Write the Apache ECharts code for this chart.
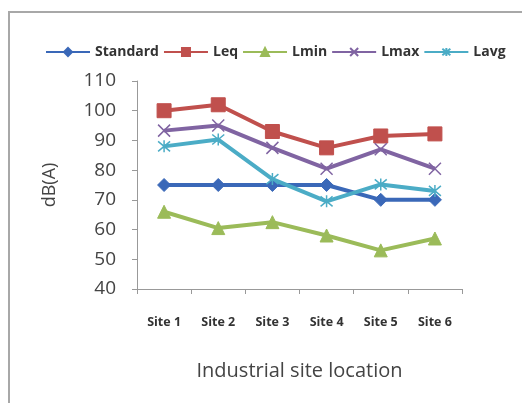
<!DOCTYPE html>
<html>
<head>
<meta charset="utf-8">
<script src="https://cdn.jsdelivr.net/npm/echarts@6/dist/echarts.min.js"></script>
<style>
  html, body { margin: 0; padding: 0; background: #fff; }
  #chart { width: 522px; height: 403px; }
</style>
</head>
<body>
<div id="chart"></div>
<script>
// data
var sites = ['Site 1', 'Site 2', 'Site 3', 'Site 4', 'Site 5', 'Site 6'];
var standard = [75, 75, 75, 75, 70, 70];
var leq = [100, 102, 93, 87.5, 91.5, 92.2];
var lmin = [66, 60.5, 62.5, 58, 53, 57];
var lmax = [93.3, 95, 87.5, 80.5, 87, 80.5];
var lavg = [88, 90.3, 77, 69.5, 75.2, 73];

var xMark = 'path://M0,0L10,10M10,0L0,10';
var starMark = 'path://M0,0L10,10M10,0L0,10M5,-1L5,11';

function line(name, data, color, symbol, size, strokeOnly) {
  return {
    name: name,
    type: 'line',
    data: data,
    symbol: symbol,
    symbolSize: size,
    lineStyle: { color: color, width: 4 },
    itemStyle: strokeOnly
      ? { color: 'rgba(0,0,0,0)', borderColor: color, borderWidth: 1.5 }
      : { color: color, borderColor: color, borderWidth: 1 },
    z: 2
  };
}

var myChart = echarts.init(document.getElementById('chart'));
myChart.setOption({
  animation: false,
  graphic: [{
    type: 'rect',
    shape: { x: 9, y: 12, width: 600, height: 500 },
    style: { fill: 'none', stroke: '#a8a8a8', lineWidth: 2 }
  }],
  color: ['#3a68b8', '#c0504d', '#9bbb59', '#8064a2', '#4bacc6'],
  legend: {
    left: 40,
    top: 40,
    itemWidth: 44,
    itemHeight: 10,
    itemGap: 4,
    textStyle: { fontFamily: 'Open Sans', fontSize: 14, fontWeight: 'bold', color: '#333' },
    data: ['Standard', 'Leq', 'Lmin', 'Lmax', 'Lavg']
  },
  grid: { left: 137, right: 60, top: 81, bottom: 114 },
  xAxis: {
    type: 'category',
    data: sites,
    name: 'Industrial site location',
    nameLocation: 'middle',
    nameGap: 72,
    nameTextStyle: { fontFamily: 'Open Sans', fontSize: 20, color: '#444' },
    axisLine: { lineStyle: { color: '#999', width: 1 } },
    axisTick: { show: true, length: 5, lineStyle: { color: '#999' } },
    axisLabel: { margin: 27, fontFamily: 'Open Sans', fontSize: 12.5, fontWeight: 'bold', color: '#333' }
  },
  yAxis: {
    type: 'value',
    min: 40,
    max: 110,
    interval: 10,
    name: 'dB(A)',
    nameLocation: 'middle',
    nameRotate: 90,
    nameGap: 78,
    nameTextStyle: { fontFamily: 'Open Sans', fontSize: 18, color: '#444' },
    axisLine: { show: true, lineStyle: { color: '#999', width: 1 } },
    axisTick: { show: true, length: 5, lineStyle: { color: '#999' } },
    axisLabel: { margin: 21, fontFamily: 'Open Sans', fontSize: 19, color: '#444' },
    splitLine: { show: false }
  },
  series: [
    line('Standard', standard, '#3a68b8', 'diamond', 13, false),
    line('Leq', leq, '#c0504d', 'rect', 14, false),
    line('Lmin', lmin, '#9bbb59', 'triangle', 13, false),
    line('Lmax', lmax, '#8064a2', xMark, 12, true),
    line('Lavg', lavg, '#4bacc6', starMark, 12, true)
  ]
});
</script>
</body>
</html>
